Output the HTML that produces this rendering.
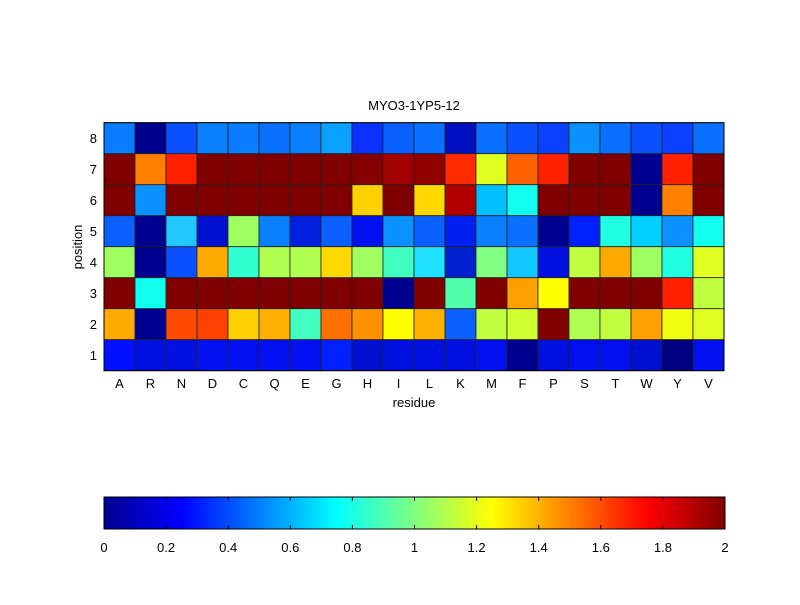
<!DOCTYPE html>
<html><head><style>
body{margin:0;background:#fff;}
svg text{font-family:"Liberation Sans",sans-serif;font-size:13px;fill:#000;}
</style></head><body>
<svg width="800" height="600" viewBox="0 0 800 600" xmlns="http://www.w3.org/2000/svg">
<defs>
<linearGradient id="jet" x1="0" x2="1" y1="0" y2="0">
<stop offset="0" stop-color="#00008f"/>
<stop offset="0.125" stop-color="#0000ff"/>
<stop offset="0.375" stop-color="#00ffff"/>
<stop offset="0.625" stop-color="#ffff00"/>
<stop offset="0.875" stop-color="#ff0000"/>
<stop offset="1" stop-color="#800000"/>
</linearGradient>
</defs>
<g id="cells" stroke="#222" stroke-width="0.8"></g>
<rect x="104" y="122.7" width="620" height="248" fill="none" stroke="#000" stroke-width="1"/>
<text x="414" y="110" text-anchor="middle" font-size="12">MYO3-1YP5-12</text>
<g id="xl"></g><g id="yl"></g>
<text x="414" y="407" text-anchor="middle">residue</text>
<text transform="translate(82,247) rotate(-90)" text-anchor="middle">position</text>
<rect x="104" y="497" width="621" height="32" fill="url(#jet)" stroke="#000"/>
<g id="cb"></g>
</svg>
<script>
var rows=[
["#0a7cff","#00008f","#0a50ff","#0a80ff","#0a7cff","#0a70ff","#0a80ff","#0aa0ff","#0a30ff","#0a60ff","#0a70ff","#0010c0","#0a70ff","#0a50ff","#0a40ff","#0a90ff","#0a70ff","#0a50ff","#0a40ff","#0a70ff"],
["#800000","#ff8000","#ff2000","#800000","#800000","#800000","#800000","#800000","#850000","#a00000","#900000","#ff2a00","#e0ff20","#ff6000","#ff2000","#800000","#800000","#000090","#ff2000","#800000"],
["#800000","#0a90ff","#800000","#800000","#800000","#800000","#800000","#800000","#ffd000","#800000","#ffd800","#b00000","#00c0ff","#10ffef","#800000","#800000","#800000","#000090","#ff8000","#800000"],
["#0a60ff","#000090","#20c8ff","#0010d0","#a0ff60","#0a80ff","#0020e0","#0a60ff","#0010f0","#0a90ff","#0a60ff","#0020f0","#0a80ff","#0a70ff","#000090","#0020ff","#20ffe0","#00d0ff","#0a90ff","#10ffef"],
["#a0ff60","#000090","#0a50ff","#ffaa00","#30ffd0","#b0ff50","#b0ff50","#ffd800","#a0ff60","#40ffc0","#20e0ff","#0020d0","#80ff80","#10c8ff","#0010e0","#c0ff40","#ffa800","#a0ff60","#20ffe0","#e0ff20"],
["#800000","#10ffef","#800000","#800000","#800000","#800000","#800000","#800000","#800000","#000090","#800000","#50ffaa","#800000","#ffa000","#ffff00","#800000","#800000","#800000","#ff2000","#c0ff40"],
["#ffaa00","#000090","#ff4800","#ff4000","#ffd000","#ffb000","#40ffc0","#ff7000","#ff9000","#ffff00","#ffb000","#0a60ff","#c0ff40","#d0ff30","#800000","#b0ff50","#c0ff40","#ffa000","#f0ff10","#e0ff20"],
["#0010ff","#0010e0","#0010e0","#0010f0","#0010f0","#0010f0","#0010f0","#0020ff","#0010d0","#0010e0","#0010e0","#0010e0","#0010f0","#000090","#0010e0","#0010f0","#0010f0","#0010d0","#000080","#0010f0"]];
var NS="http://www.w3.org/2000/svg";
function el(t,a,p,txt){var e=document.createElementNS(NS,t);for(var k in a)e.setAttribute(k,a[k]);if(txt!=null)e.textContent=txt;document.getElementById(p).appendChild(e);}
var x0=104,y0=122.7,w=31,h=31;
rows.forEach(function(r,i){r.forEach(function(c,j){el("rect",{x:x0+j*w,y:y0+i*h,width:w,height:h,fill:c},"cells");});});
"ARNDCQEGHILKMFPSTWYV".split("").forEach(function(l,j){el("text",{x:x0+j*w+w/2,y:388,"text-anchor":"middle"},"xl",l);});
for(var i=0;i<8;i++)el("text",{x:97,y:y0+i*h+h/2+5,"text-anchor":"end"},"yl",String(8-i));
for(var i=0;i<=10;i++){var x=104+i*62.1;
el("line",{x1:x,x2:x,y1:497,y2:501,stroke:"#000"},"cb");el("line",{x1:x,x2:x,y1:525,y2:529,stroke:"#000"},"cb");
var v=(i*0.2).toFixed(1).replace(/\.0$/,"");el("text",{x:x,y:552,"text-anchor":"middle"},"cb",v);}
</script>
</body></html>
